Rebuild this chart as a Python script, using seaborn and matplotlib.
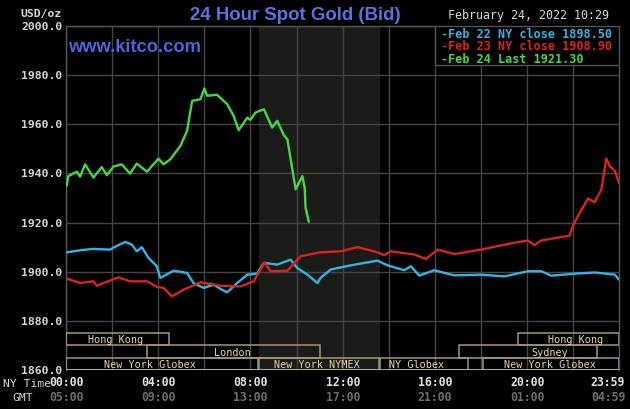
import matplotlib
matplotlib.use("Agg")
import matplotlib.pyplot as plt
import matplotlib.transforms as mtransforms
from matplotlib.patches import Rectangle
import pandas as pd
import seaborn as sns

# ---------------- data ----------------
feb22_hours = [0.03, 0.61, 1.17, 1.91, 2.26, 2.57, 2.86, 3.07, 3.29, 3.58, 3.94, 4.09, 4.35,
               4.67, 5.25, 5.53, 5.97, 6.40, 6.70, 6.99, 7.42, 7.86, 8.29, 8.58, 9.16, 9.74,
               10.03, 10.47, 10.90, 11.04, 11.48, 12.35, 13.51, 13.94, 14.67, 14.96, 15.32,
               15.97, 16.84, 18.0, 19.01, 20.03, 20.61, 21.04, 22.06, 22.93, 23.8, 23.98]
feb22_price = [1907.9, 1908.7, 1909.3, 1909.0, 1910.8, 1912.1, 1911.0, 1908.3, 1910.0, 1905.6,
               1902.2, 1897.5, 1898.8, 1900.4, 1899.5, 1895.4, 1893.4, 1894.7, 1893.0, 1891.6,
               1895.4, 1898.8, 1899.2, 1903.6, 1902.9, 1904.9, 1901.5, 1898.8, 1895.4, 1897.5,
               1900.9, 1902.6, 1904.5, 1902.6, 1900.6, 1902.2, 1898.4, 1900.6, 1898.5, 1898.8,
               1898.1, 1900.2, 1900.2, 1898.4, 1899.2, 1899.7, 1898.8, 1896.8]

feb23_hours = [0.03, 0.61, 1.19, 1.33, 2.27, 2.78, 3.51, 3.94, 4.23, 4.60, 5.10, 5.83, 6.70,
               7.57, 8.14, 8.61, 8.87, 9.60, 10.17, 11.04, 11.91, 12.64, 13.51, 13.80, 14.09,
               15.10, 15.61, 16.12, 16.84, 18.0, 19.16, 20.03, 20.32, 20.61, 21.84, 21.99,
               22.2, 22.64, 22.93, 23.22, 23.43, 23.58, 23.8, 23.98]
feb23_price = [1897.2, 1895.4, 1896.1, 1894.3, 1897.7, 1896.1, 1896.1, 1893.8, 1893.4, 1890.0,
               1892.7, 1895.7, 1894.3, 1894.0, 1896.1, 1903.8, 1900.2, 1900.4, 1906.3, 1907.9,
               1908.3, 1910.0, 1907.9, 1906.7, 1908.3, 1907.0, 1905.2, 1909.0, 1907.2, 1909.0,
               1911.3, 1912.7, 1910.8, 1912.7, 1914.7, 1918.8, 1922.6, 1929.8, 1928.3, 1933.5,
               1946.1, 1943.0, 1941.0, 1936.2]

feb24_hours = [0.03, 0.10, 0.47, 0.61, 0.83, 1.19, 1.55, 1.77, 2.06, 2.42, 2.78, 3.07, 3.51,
               4.01, 4.23, 4.52, 4.96, 5.25, 5.47, 5.83, 6.0, 6.12, 6.55, 6.99, 7.27, 7.49,
               7.86, 8.0, 8.22, 8.58, 8.94, 9.16, 9.45, 9.6, 9.96, 10.25, 10.35, 10.39, 10.53]
feb24_price = [1935.1, 1938.9, 1940.7, 1938.7, 1943.7, 1938.3, 1942.6, 1939.3, 1942.8, 1943.7,
               1939.9, 1944.0, 1940.7, 1946.0, 1943.7, 1945.7, 1951.2, 1957.3, 1969.5, 1970.2,
               1974.6, 1971.6, 1972.0, 1968.2, 1963.4, 1957.6, 1962.7, 1961.8, 1964.8, 1966.1,
               1958.7, 1961.4, 1955.5, 1953.9, 1933.5, 1938.9, 1934.2, 1926.0, 1920.3]

series_names = ["Feb 22 NY close 1898.50", "Feb 23 NY close 1908.90", "Feb 24 Last 1921.30"]
series_colors = ["#34b4e4", "#dc2222", "#44d844"]

y_ticks = [1860, 1880, 1900, 1920, 1940, 1960, 1980, 2000]
x_ticks = [0, 4, 8, 12, 16, 20, 23.983]
ny_labels = ["00:00", "04:00", "08:00", "12:00", "16:00", "20:00", "23:59"]
gmt_labels = ["05:00", "09:00", "13:00", "17:00", "21:00", "01:00", "04:59"]

# market sessions: (name, start hour, end hour, row, label hour)
market_names = ["Hong Kong", "Hong Kong", "London", "Sydney", "New York Globex",
                "New York NYMEX", "NY Globex", "New York Globex"]
market_start = [0.0, 19.6, 3.53, 17.05, 0.0, 8.35, 13.6, 18.1]
market_end = [4.48, 23.983, 11.03, 23.03, 8.33, 13.56, 17.42, 23.983]
market_row = [0, 0, 1, 1, 2, 2, 2, 2]
market_label_x = [2.15, 22.1, 7.2, 21.0, 3.65, 10.9, 15.2, 21.0]

nymex_start, nymex_end = 8.35, 13.56

# ---------------- figure ----------------
sns.set_theme(style="dark")
plt.rcParams["font.family"] = ["DejaVu Sans Mono", "DejaVu Sans"]

W, H = 630, 410
fig = plt.figure(figsize=(W / 100, H / 100), dpi=100, facecolor="#000000")
ax = fig.add_axes([66 / W, 1 - 371 / H, (619 - 66) / W, (371 - 27) / H])
ax.set_facecolor("#000000")

df = pd.concat([
    pd.DataFrame({"hour": feb22_hours, "price": feb22_price, "series": series_names[0]}),
    pd.DataFrame({"hour": feb23_hours, "price": feb23_price, "series": series_names[1]}),
    pd.DataFrame({"hour": feb24_hours, "price": feb24_price, "series": series_names[2]}),
])

ax.axvspan(nymex_start, nymex_end, color="#1b1b19", zorder=0)

for xv in range(0, 24, 2):
    ax.axvline(xv, color="#444444", lw=1, zorder=1)
for yv in y_ticks:
    ax.axhline(yv, color="#444444", lw=1, zorder=1)

sns.lineplot(data=df, x="hour", y="price", hue="series", palette=series_colors,
             linewidth=1.7, legend=False, ax=ax, zorder=5, sort=False, estimator=None)

ax.set_xlim(0, 23.983)
ax.set_ylim(1860, 2000)
ax.set_xlabel("")
ax.set_ylabel("")
ax.set_xticks([])
ax.set_yticks([])
for s in ax.spines.values():
    s.set_color("#555555")
    s.set_linewidth(1)
ax.spines["bottom"].set_visible(False)

# market boxes
row_bottom = [1870, 1865, 1860]
for name, s0, s1, r, lx in zip(market_names, market_start, market_end, market_row, market_label_x):
    ax.add_patch(Rectangle((s0, row_bottom[r]), s1 - s0, 5, fill=False,
                           edgecolor="#a49872", lw=1.1, zorder=3))
    ax.text(lx, row_bottom[r] + 2.5, name, ha="center", va="center", color="#e6d6a4",
            fontsize=7.3, zorder=4)
ax.axhline(1860, color="#bdb08a", lw=2, zorder=4)

# legend box
ax.add_patch(Rectangle((0.667, 0.8875), 0.333, 0.1125, transform=ax.transAxes,
                       facecolor="#000000", edgecolor="#555555", lw=1, zorder=6))
leg_y = [34.3, 46.5, 59.5]
for nm, col, yy in zip(series_names, series_colors, leg_y):
    fig.text(441 / W, 1 - yy / H, "-" + nm, color=col, fontsize=8.5, fontweight="bold",
             ha="left", va="center", zorder=7)

# y tick labels
for yv in y_ticks:
    ax.text(-0.007, (yv - 1860) / 140, f"{yv:.1f}", transform=ax.transAxes, ha="right",
            va="center", color="#d6d6d6", fontsize=8.2, fontweight="bold")
fig.text(62 / W, 1 - 14 / H, "USD/oz", ha="right", va="center", color="#d6d6d6",
         fontsize=8.2, fontweight="bold")

# x tick labels
for i, (xt, a, b) in enumerate(zip(x_ticks, ny_labels, gmt_labels)):
    tr = ax.get_xaxis_transform()
    if i == len(x_ticks) - 1:
        tr = mtransforms.offset_copy(tr, fig=fig, x=-11, y=0, units="dots")
    ax.text(xt, -(382.7 - 371) / 344, a, transform=tr, ha="center", va="center",
            color="#e4e4e4", fontsize=8.3, fontweight="bold")
    ax.text(xt, -(397.3 - 371) / 344, b, transform=tr, ha="center", va="center",
            color="#6e6e6e", fontsize=8.3, fontweight="bold")
fig.text(3 / W, 1 - 384 / H, "NY Time", ha="left", va="center", color="#d6d6d6", fontsize=8.2)
fig.text(12 / W, 1 - 398 / H, "GMT", ha="left", va="center", color="#d6d6d6", fontsize=8.2)

# titles
fig.text(295 / W, 1 - 16 / H, "24 Hour Spot Gold (Bid)", ha="center", va="center",
         color="#5a72dc", fontsize=13.4, fontweight="bold", family="Liberation Sans")
fig.text(609 / W, 1 - 16 / H, "February 24, 2022 10:29", ha="right", va="center",
         color="#d8d8d8", fontsize=8.4)
ax.text(68 / W, 1 - 48 / H, "www.kitco.com", transform=fig.transFigure, ha="left",
        va="center", color="#4c66d8", fontsize=13.2, fontweight="bold",
        family="Liberation Sans", zorder=8)

fig.savefig("out.png", dpi=100, facecolor="#000000")
